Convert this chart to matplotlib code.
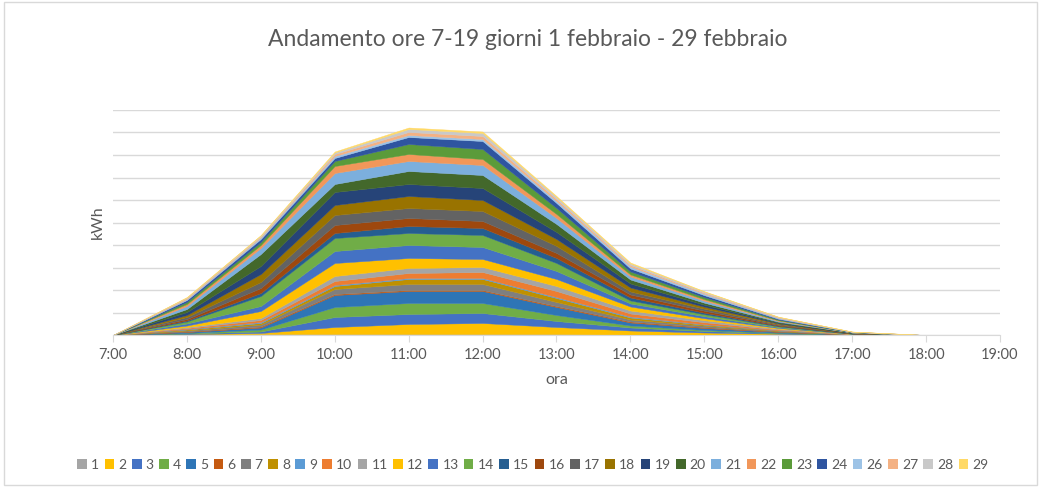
import matplotlib.pyplot as plt
from matplotlib.patches import Patch, Rectangle
import numpy as np

plt.rcParams['font.family'] = ['Lato', 'DejaVu Sans']

# hours on the category axis
hours = ["7:00", "8:00", "9:00", "10:00", "11:00", "12:00", "13:00",
         "14:00", "15:00", "16:00", "17:00", "18:00", "19:00"]

# one series per day (day 25 missing)
days = ["1", "2", "3", "4", "5", "6", "7", "8", "9", "10", "11", "12", "13", "14",
        "15", "16", "17", "18", "19", "20", "21", "22", "23", "24", "26", "27", "28", "29"]

d01 = [0, 0.5, 1.0, 1, 1, 1, 1, 0.5, 0.5, 0.3, 0.1, 0, 0]
d02 = [0, 0.5, 1.0, 7, 10, 11, 7, 4, 2, 1.0, 0.1, 0, 0]
d03 = [0, 0.5, 1.5, 10, 10, 10, 6, 3, 1.5, 0.5, 0.1, 0, 0]
d04 = [0, 0.5, 2.0, 10, 11, 10, 6, 2, 1, 0.5, 0.1, 0, 0]
d05 = [0, 1.0, 2.0, 12, 12, 12, 8, 3, 2, 0.8, 0.1, 0, 0]
d06 = [0, 0.5, 1.0, 1, 1, 1, 1, 1, 0.8, 0.3, 0.1, 0, 0]
d07 = [0, 1.0, 2.0, 5, 6, 6, 4, 2, 1.5, 0.5, 0.1, 0, 0]
d08 = [0, 1.0, 1.5, 3, 5, 5, 4, 2, 1, 0.5, 0.1, 0, 0]
d09 = [0, 0.5, 1.0, 1, 1, 1, 1, 1, 0.5, 0.3, 0.1, 0, 0]
d10 = [0, 1.0, 2.0, 4, 5, 6, 6, 3, 2, 0.8, 0.1, 0, 0]
d11 = [0, 1.0, 2.0, 5, 5, 5, 5, 3, 2, 0.8, 0.1, 0, 0]
d12 = [0, 1.5, 7.0, 13, 10, 8, 7, 4, 2, 0.8, 0.1, 0, 0]
d13 = [0, 2.0, 5.0, 12, 13, 12, 8, 3, 2, 0.8, 0.1, 0, 0]
d14 = [0, 2.0, 10.0, 13, 12, 12, 8, 3, 2, 0.8, 0.1, 0, 0]
d15 = [0, 1.0, 3.0, 5, 7, 7, 5, 3, 1.5, 0.6, 0.1, 0, 0]
d16 = [0, 1.5, 5.0, 8, 8, 7, 5, 3, 2, 0.8, 0.1, 0, 0]
d17 = [0, 2.0, 6.0, 10, 10, 10, 7, 3, 2, 0.8, 0.2, 0, 0]
d18 = [0, 2.0, 8.0, 10, 12, 11, 7, 4, 2, 0.8, 0.2, 0, 0]
d19 = [0, 3.0, 8.0, 13, 12, 12, 7, 4, 2, 0.8, 0.2, 0, 0]
d20 = [0, 3.0, 12.0, 8, 13, 13, 8, 4, 2, 0.8, 0.2, 0, 0]
d21 = [0, 3.0, 6.0, 11, 10, 10, 6, 3, 2, 0.8, 0.2, 0, 0]
d22 = [0, 2.0, 3.0, 7, 7, 6, 4, 2, 1.5, 0.6, 0.1, 0, 0]
d23 = [0, 2.0, 3.0, 5, 10, 10, 6, 3, 2, 0.8, 0.2, 0, 0]
d24 = [0, 2.0, 3.0, 3, 7, 8, 5, 3, 2, 0.8, 0.2, 0, 0]
d26 = [0, 1.0, 1.5, 2, 2, 2, 2, 2, 1.5, 0.8, 0.1, 0, 0]
d27 = [0, 1.0, 1.0, 2, 3, 3, 2, 1.5, 1, 0.5, 0.1, 0, 0]
d28 = [0, 0.5, 1.0, 1.5, 3, 3, 2, 1.5, 1, 0.5, 0.1, 0, 0]
d29 = [0, 0.5, 0.5, 1, 1.5, 1.5, 1, 1, 0.5, 0.3, 0.1, 0, 0]

series = [d01, d02, d03, d04, d05, d06, d07, d08, d09, d10, d11, d12, d13, d14,
          d15, d16, d17, d18, d19, d20, d21, d22, d23, d24, d26, d27, d28, d29]

colors = ["#A5A5A5", "#FFC000", "#4472C4", "#70AD47", "#2E75B6", "#C55A11",
          "#7F7F7F", "#BF9000", "#5B9BD5", "#ED7D31", "#A5A5A5", "#FFC000",
          "#4472C4", "#70AD47", "#255E91", "#9E480E", "#636363", "#997300",
          "#264478", "#43682B", "#7CAFDD", "#F1975A", "#5B9B3A", "#2F55A0",
          "#9DC3E6", "#F4B183", "#C9C9C9", "#FFD966"]

text_col = "#595959"
grid_col = "#D9D9D9"

fig = plt.figure(figsize=(10.41, 4.88), dpi=100)
ax = fig.add_axes([0.1085, 0.3135, 0.8521, 0.4611])

x = np.arange(len(hours))
polys = ax.stackplot(x, *series, colors=colors)
for p, c in zip(polys, colors):
    p.set_edgecolor(c)
    p.set_linewidth(0.3)

ax.set_xlim(0, len(hours) - 1)
ax.set_ylim(0, 225)
ax.set_yticks(np.arange(0, 226, 22.5))
ax.yaxis.grid(True, color=grid_col, lw=1)
ax.set_axisbelow(True)
ax.tick_params(axis='y', length=0, labelleft=False)
ax.set_xticks(x)
ax.set_xticklabels(hours, fontsize=10.5, color=text_col)
ax.tick_params(axis='x', length=5, color=grid_col, pad=4)

for s in ["top", "right", "left"]:
    ax.spines[s].set_visible(False)
ax.spines["bottom"].set_color(grid_col)

ax.set_xlabel("ora", fontsize=11.5, color=text_col, labelpad=8)
ax.set_ylabel("kWh", fontsize=11.5, color=text_col, labelpad=6)

fig.suptitle("Andamento ore 7-19 giorni 1 febbraio - 29 febbraio",
             x=0.507, y=0.94, fontsize=16.5, color=text_col)

handles = [Patch(facecolor=c, edgecolor="none") for c in colors]
fig.legend(handles, days, loc="center", bbox_to_anchor=(0.512, 0.047),
           ncol=len(days), frameon=False, fontsize=10, labelcolor=text_col,
           handlelength=0.7, handleheight=0.7, handletextpad=0.3,
           columnspacing=0.38, borderpad=0.2)

fig.patches.append(Rectangle((0.004, 0.006), 0.992, 0.99, transform=fig.transFigure,
                             fill=False, edgecolor="#D9D9D9", lw=1))

fig.savefig("out.png", dpi=100)
